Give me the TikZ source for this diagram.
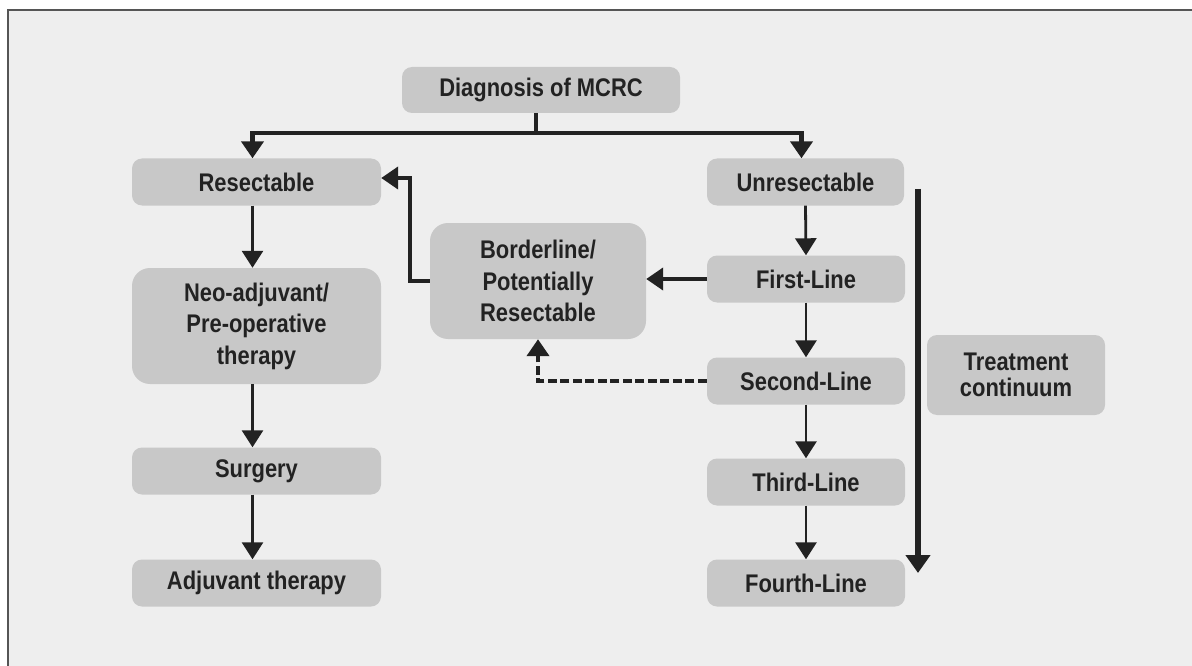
\documentclass[tikz,border=0pt]{standalone}
\usepackage{fontspec}
\setmainfont{Liberation Sans}[FakeStretch=0.86]
\usetikzlibrary{arrows.meta,calc}
\definecolor{bg}{HTML}{EEEEEE}
\definecolor{boxc}{HTML}{C8C8C8}
\definecolor{ink}{HTML}{222222}
\definecolor{frame}{HTML}{555555}
\tikzset{
  box/.style={fill=boxc, rounded corners=10pt, inner sep=0pt, text=ink,
    font=\fontsize{25.5}{31.5}\selectfont\bfseries, align=center},
  bigbox/.style={box, rounded corners=18pt},
  conn/.style={draw=ink, line width=2.8pt, -{Triangle[width=21pt,length=17pt]}},
  thickconn/.style={draw=ink, line width=4.2pt, -{Triangle[width=22pt,length=17pt]}},
  dashconn/.style={thickconn, dash pattern=on 9pt off 3.5pt},
}
\begin{document}
\begin{tikzpicture}[x=1pt,y=-1pt]
\useasboundingbox (0,0) rectangle (1192,666);
\fill[white] (0,0) rectangle (1192,666);
\fill[bg] (8,10) rectangle (1192,666);
\draw[frame, line width=2.5pt] (8,666) -- (8,10) -- (1192,10);

\node[box, minimum width=278pt, minimum height=46pt] (diag) at (541,90) {Diagnosis of MCRC};
\node[box, minimum width=249pt, minimum height=47pt] (res) at (256.5,182) {Resectable};
\node[box, minimum width=197pt, minimum height=47pt] (unres) at (805.5,182) {Unresectable};
\node[bigbox, minimum width=249pt, minimum height=116pt] (neo) at (256.5,326) {Neo-adjuvant/\\Pre-operative\\therapy};
\node[bigbox, minimum width=216pt, minimum height=116pt] (bord) at (538,281) {Borderline/\\Potentially\\Resectable};
\node[box, minimum width=198pt, minimum height=47pt] (first) at (806,279) {First-Line};
\node[box, minimum width=198pt, minimum height=47pt] (second) at (806,381) {Second-Line};
\node[box, minimum width=198pt, minimum height=47pt] (third) at (806,482) {Third-Line};
\node[box, minimum width=198pt, minimum height=47pt] (fourth) at (806,583) {Fourth-Line};
\node[box, minimum width=249pt, minimum height=47pt] (surg) at (256.5,471) {Surgery};
\node[box, minimum width=249pt, minimum height=47pt] (adj) at (256.5,583) {Adjuvant therapy};
\node[box, font=\fontsize{25.5}{25.5}\selectfont\bfseries, minimum width=178pt, minimum height=80pt] (cont) at (1016,375) {Treatment\\continuum};

% top split
\coordinate (j) at (536,133);
\draw[ink, line width=4.2pt] (diag.south -| j) -- (j);
\draw[thickconn, {Triangle[width=22pt,length=17pt]}-{Triangle[width=22pt,length=17pt]}]
  ([xshift=-4pt]res.north) |- (j) -| ([xshift=-4pt]unres.north);

% left column
\draw[conn] ([xshift=-4pt]res.south) -- ([xshift=-4pt]neo.north);
\draw[conn] ([xshift=-4pt]neo.south) -- ([xshift=-4pt]surg.north);
\draw[conn] ([xshift=-4pt]surg.south) -- ([xshift=-4pt]adj.north);

% right column
\draw[conn] (unres.south) -- (first.north);
\draw[conn] (first.south) -- (second.north);
\draw[conn] (second.south) -- (third.north);
\draw[conn] (third.south) -- (fourth.north);

% borderline connections
\coordinate (bl) at (410,178);
\draw[thickconn] (bord.west) -| (bl) -- (bl -| res.east);
\draw[thickconn] (first.west) -- (first.west -| bord.east);
\draw[dashconn] (second.west) -| (bord.south);

% treatment continuum arrow
\coordinate (ct) at (918,189);
\coordinate (cb) at (918,573);
\draw[draw=ink, line width=6pt, -{Triangle[width=24pt,length=18pt]}] (ct) -- (cb);
\end{tikzpicture}
\end{document}
